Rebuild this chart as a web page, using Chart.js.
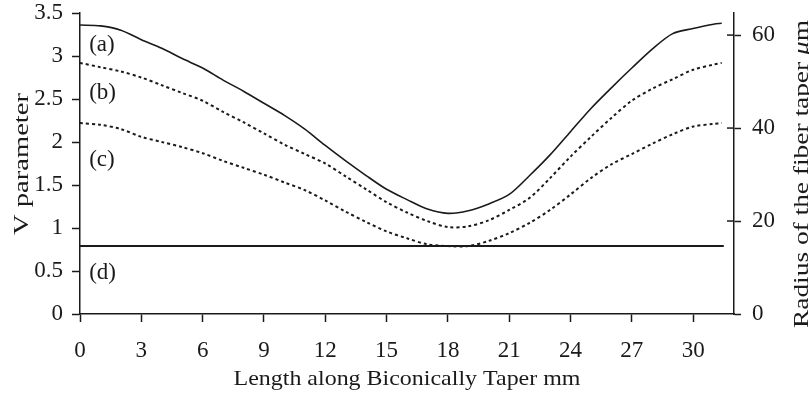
<!DOCTYPE html>
<html>
<head>
<meta charset="utf-8">
<script src="https://cdn.jsdelivr.net/npm/chart.js@4.4.1/dist/chart.umd.min.js"></script>
<style>
  html, body { margin: 0; padding: 0; background: #fff; }
  #wrap { width: 809px; height: 396px; }
</style>
</head>
<body>
<div id="wrap"><canvas id="taperChart" width="809" height="396"></canvas></div>
<script>
// ---------------- DATA ----------------
const lengthMm = [0, 1, 2, 3, 4, 5, 6, 7, 8, 9, 10, 11, 12, 13, 14, 15, 16,
                  17, 18, 19, 20, 21, 22, 23, 24, 25, 26, 27, 28, 29, 30, 31, 31.4];

// (a) solid curve
const curveA = [3.36, 3.35, 3.30, 3.19, 3.09, 2.97, 2.86, 2.72, 2.59, 2.45, 2.31, 2.15, 1.96,
                1.78, 1.61, 1.45, 1.33, 1.22, 1.17, 1.20, 1.28, 1.39, 1.61, 1.85, 2.12, 2.39,
                2.63, 2.86, 3.08, 3.26, 3.32, 3.37, 3.38];
// (b) dotted curve
const curveB = [2.92, 2.87, 2.82, 2.75, 2.66, 2.57, 2.48, 2.35, 2.23, 2.10, 1.97, 1.86, 1.75,
                1.60, 1.45, 1.30, 1.18, 1.08, 1.01, 1.02, 1.09, 1.21, 1.35, 1.58, 1.83, 2.06,
                2.28, 2.48, 2.62, 2.73, 2.84, 2.90, 2.92];
// (c) dotted curve
const curveC = [2.22, 2.20, 2.15, 2.06, 2.00, 1.94, 1.87, 1.78, 1.70, 1.62, 1.53, 1.44, 1.32,
                1.19, 1.07, 0.96, 0.88, 0.81, 0.79, 0.79, 0.85, 0.94, 1.06, 1.21, 1.39, 1.58,
                1.74, 1.86, 1.98, 2.09, 2.18, 2.21, 2.22];
// (d) cut-off level
const cutoffV = 0.79;
const cutoffX = [0, 31.5];

const curveLabels = ['(a)', '(b)', '(c)', '(d)'];
const labelX = [0.45, 0.45, 0.45, 0.45];
const labelY = [3.13, 2.57, 1.79, 0.48];

const xTicks = [0, 3, 6, 9, 12, 15, 18, 21, 24, 27, 30];
const yTicks = [0, 0.5, 1, 1.5, 2, 2.5, 3, 3.5];
const rTicks = [0, 20, 40, 60];

const xTitle = 'Length along Biconically Taper mm';
const yTitle = 'V parameter';
const rTitle = 'Radius of the fiber taper ';

// ---------------- HELPERS ----------------
const FONT = '"Liberation Serif", "DejaVu Serif", serif';
const INK = '#1a1a1a';

function toPoints(xs, ys) {
    return xs.map((x, i) => ({ x: x, y: ys[i] }));
}

function keepTicks(list) {
    return function (scale) {
        scale.ticks = list.map(v => ({ value: v }));
    };
}

// fixed axis width, and no extra room for the half labels at both ends
function fixWidth(w) {
    return function (scale) {
        scale.width = w;
        scale.paddingTop = 0;
        scale.paddingBottom = 0;
    };
}

// draw a text stretched to a given length, centred on (cx, cy)
function stretchText(ctx, text, cx, cy, angle, size, length) {
    ctx.save();
    ctx.font = size + 'px ' + FONT;
    const w = ctx.measureText(text).width;
    ctx.translate(cx, cy);
    ctx.rotate(angle);
    ctx.scale(length / w, 1);
    ctx.textAlign = 'center';
    ctx.textBaseline = 'alphabetic';
    ctx.fillText(text, 0, 0);
    ctx.restore();
}

// labels, titles and the crossing ticks on the right axis
const extrasPlugin = {
    id: 'extras',
    afterDraw(chart) {
        const ctx = chart.ctx;
        const xs = chart.scales.x, ys = chart.scales.y, rs = chart.scales.y2;
        const area = chart.chartArea;
        ctx.save();
        ctx.fillStyle = INK;
        ctx.strokeStyle = INK;

        // inner half of the right axis ticks
        ctx.lineWidth = 1.5;
        rTicks.forEach(v => {
            if (v === 0) return;
            const py = rs.getPixelForValue(v);
            ctx.beginPath();
            ctx.moveTo(area.right - 7, py);
            ctx.lineTo(area.right, py);
            ctx.stroke();
        });

        // curve labels
        ctx.font = '23px ' + FONT;
        ctx.textAlign = 'left';
        ctx.textBaseline = 'middle';
        curveLabels.forEach((t, i) => {
            ctx.fillText(t, xs.getPixelForValue(labelX[i]), ys.getPixelForValue(labelY[i]));
        });

        // x title and left title
        stretchText(ctx, xTitle, (area.left + area.right) / 2, 385, 0, 22, 347);
        stretchText(ctx, yTitle, 28, 164, -Math.PI / 2, 22, 142);

        // right title with italic mu
        ctx.save();
        const size = 21;
        ctx.font = size + 'px ' + FONT;
        const w1 = ctx.measureText(rTitle).width;
        ctx.font = 'italic ' + size + 'px ' + FONT;
        const w2 = ctx.measureText('\u03bc').width;
        ctx.font = size + 'px ' + FONT;
        const w3 = ctx.measureText('m').width;
        const total = w1 + w2 + w3;
        ctx.translate(808, 174);
        ctx.rotate(-Math.PI / 2);
        ctx.scale(308 / total, 1);
        ctx.textAlign = 'left';
        ctx.textBaseline = 'alphabetic';
        const start = -total / 2;
        ctx.fillText(rTitle, start, 0);
        ctx.font = 'italic ' + size + 'px ' + FONT;
        ctx.fillText('\u03bc', start + w1, 0);
        ctx.font = size + 'px ' + FONT;
        ctx.fillText('m', start + w1 + w2, 0);
        ctx.restore();

        ctx.restore();
    }
};

// ---------------- CHART ----------------
const axisGrid = {
    display: true,
    drawOnChartArea: false,
    drawTicks: true,
    tickLength: 8,
    tickWidth: 1.5,
    color: INK
};
const axisBorder = { display: true, color: INK, width: 1.5 };
const tickFont = { family: FONT, size: 23 };
const plainLabel = v => String(v);

new Chart(document.getElementById('taperChart'), {
    type: 'line',
    data: {
        datasets: [
            {
                label: curveLabels[0],
                data: toPoints(lengthMm, curveA),
                borderColor: INK,
                borderWidth: 1.6,
                tension: 0.3
            },
            {
                label: curveLabels[1],
                data: toPoints(lengthMm, curveB),
                borderColor: INK,
                borderWidth: 2,
                borderDash: [3, 3],
                tension: 0.3
            },
            {
                label: curveLabels[2],
                data: toPoints(lengthMm, curveC),
                borderColor: INK,
                borderWidth: 2,
                borderDash: [3, 3],
                tension: 0.3
            },
            {
                label: curveLabels[3],
                data: toPoints(cutoffX, [cutoffV, cutoffV]),
                borderColor: INK,
                borderWidth: 2
            }
        ]
    },
    options: {
        responsive: false,
        animation: false,
        layout: { padding: { top: 13, bottom: 0, left: 0, right: 0 } },
        elements: { point: { radius: 0 } },
        plugins: {
            legend: { display: false },
            tooltip: { enabled: false }
        },
        scales: {
            x: {
                type: 'linear',
                min: 0,
                max: 32,
                afterBuildTicks: keepTicks(xTicks),
                afterFit: function (scale) { scale.height = 82; },
                grid: axisGrid,
                border: axisBorder,
                ticks: { font: tickFont, color: INK, padding: 15, maxRotation: 0, callback: plainLabel }
            },
            y: {
                position: 'left',
                min: 0,
                max: 3.5,
                afterBuildTicks: keepTicks(yTicks),
                afterFit: fixWidth(80),
                grid: axisGrid,
                border: axisBorder,
                ticks: { font: tickFont, color: INK, padding: 9, callback: plainLabel }
            },
            y2: {
                position: 'right',
                min: 0,
                max: 64.75,
                afterBuildTicks: keepTicks(rTicks),
                afterFit: fixWidth(75),
                grid: Object.assign({}, axisGrid, { tickLength: 7 }),
                border: axisBorder,
                ticks: { font: tickFont, color: INK, padding: 11, callback: plainLabel }
            }
        }
    },
    plugins: [extrasPlugin]
});
</script>
</body>
</html>
